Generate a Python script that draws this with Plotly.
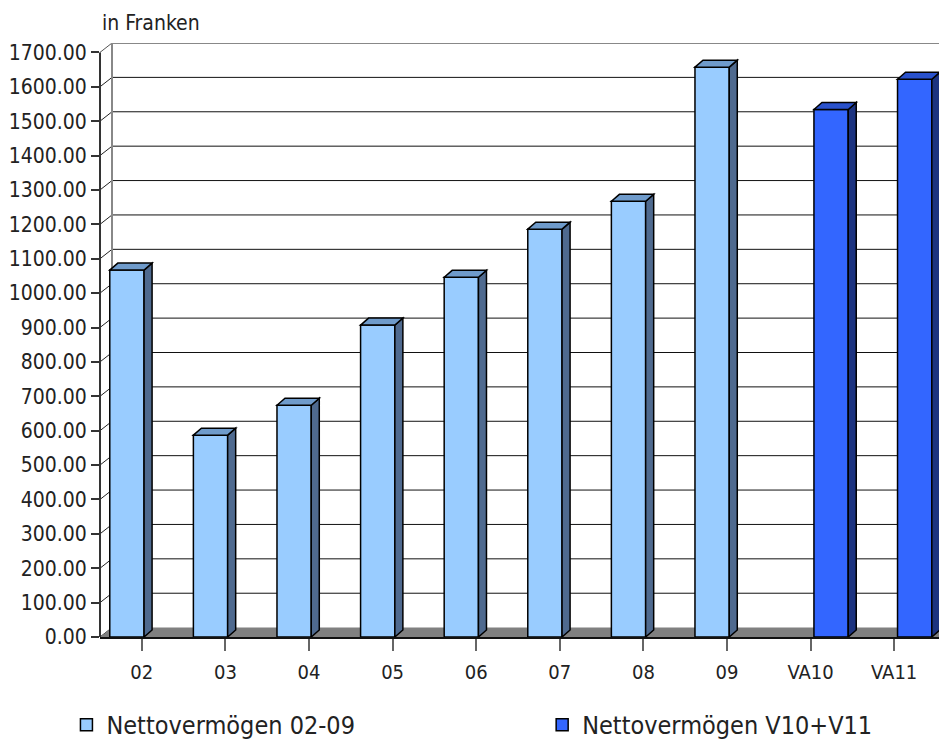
import plotly.graph_objects as go

categories = ["02", "03", "04", "05", "06", "07", "08", "09", "VA10", "VA11"]
netto_02_09 = [1067, 587, 674, 907, 1046, 1186, 1267, 1657, None, None]
netto_v10_v11 = [None, None, None, None, None, None, None, None, 1534, 1622]
y_ticks = list(range(0, 1701, 100))

FONT = "DejaVu Sans Condensed, DejaVu Sans, sans-serif"
TXT = "#222222"

# 3D geometry (in axis units)
BAR_W = 0.41
WALL_DX, WALL_DY = 0.1435, 27.3
BAR_DX, BAR_DY = 0.096, 20.3
X_LEFT, X_RIGHT = -0.5, 9.536
Y_TOP = 1700 + WALL_DY

series = [
    dict(name="Nettovermögen 02-09", values=netto_02_09, offset=-0.383, legend="legend",
         front="#99CCFF", top="#6F9BCB", side="#4F6A8F"),
    dict(name="Nettovermögen V10+V11", values=netto_v10_v11, offset=0.04, legend="legend2",
         front="#3366FF", top="#2A52CC", side="#1C3380"),
]

xs = list(range(len(categories)))
fig = go.Figure()
for s in series:
    fig.add_trace(go.Bar(
        x=xs, y=s["values"], name=s["name"], width=BAR_W, offset=s["offset"],
        legend=s["legend"],
        marker=dict(color=s["front"], line=dict(color="black", width=1.5)),
    ))

shapes = []
# back wall gridlines and connectors
for v in y_ticks:
    if v > 0:
        shapes.append(dict(type="line", xref="x", yref="y", layer="below",
                           x0=X_LEFT + WALL_DX, x1=X_RIGHT + 1, y0=v + WALL_DY, y1=v + WALL_DY,
                           line=dict(color="#888888" if v == 1700 else "#111111",
                                     width=2 if v == 1700 else 1)))
    shapes.append(dict(type="line", xref="x", yref="y", layer="below",
                       x0=X_LEFT, x1=X_LEFT + WALL_DX, y0=v, y1=v + WALL_DY,
                       line=dict(color="#555555" if v == 1700 else "#222222", width=1)))
# back wall left edge
shapes.append(dict(type="line", xref="x", yref="y", layer="below",
                   x0=X_LEFT + WALL_DX, x1=X_LEFT + WALL_DX, y0=WALL_DY, y1=Y_TOP,
                   line=dict(color="#888888", width=2)))
# floor
shapes.append(dict(type="path", xref="x", yref="y", layer="below",
                   path=f"M {X_LEFT},0 L {X_LEFT + WALL_DX},{WALL_DY} L {X_RIGHT + 1},{WALL_DY} L {X_RIGHT + 1},0 Z",
                   fillcolor="#808080", line=dict(width=0)))
# front y axis line
shapes.append(dict(type="line", xref="paper", yref="y", x0=0, x1=0, y0=0, y1=1700,
                   line=dict(color="#333333", width=2)))
# bar depth faces
for s in series:
    for i, v in enumerate(s["values"]):
        if v is None:
            continue
        xl = i + s["offset"]
        xr = xl + BAR_W
        shapes.append(dict(type="path", xref="x", yref="y", layer="above",
                           path=f"M {xr},0 L {xr + BAR_DX},{BAR_DY} L {xr + BAR_DX},{v + BAR_DY} L {xr},{v} Z",
                           fillcolor=s["side"], line=dict(color="black", width=1.5)))
        shapes.append(dict(type="path", xref="x", yref="y", layer="above",
                           path=f"M {xl},{v} L {xl + BAR_DX},{v + BAR_DY} L {xr + BAR_DX},{v + BAR_DY} L {xr},{v} Z",
                           fillcolor=s["top"], line=dict(color="black", width=1.5)))

legend_common = dict(orientation="h", xanchor="left", y=-0.148, yanchor="middle",
                     font=dict(family=FONT, size=25, color=TXT), bgcolor="rgba(0,0,0,0)")

fig.update_layout(
    width=939, height=742,
    margin=dict(l=100, r=0, t=43, b=105, autoexpand=False),
    paper_bgcolor="white", plot_bgcolor="white",
    barmode="overlay",
    shapes=shapes,
    font=dict(family=FONT, color=TXT, size=20),
    showlegend=True,
    legend=dict(x=-0.04, **legend_common),
    legend2=dict(x=0.527, **legend_common),
    annotations=[dict(text="in Franken", xref="paper", yref="paper", x=0.0, y=1.0,
                      yshift=6, xanchor="left", yanchor="bottom", showarrow=False,
                      font=dict(family=FONT, size=21, color=TXT))],
    xaxis=dict(range=[X_LEFT, X_RIGHT], tickvals=xs, ticktext=categories,
               showgrid=False, zeroline=False, showline=True, linecolor="#111111", linewidth=1.5,
               ticks="outside", tickson="boundaries", ticklen=12, tickcolor="#666666", tickwidth=1.5,
               ticklabelstandoff=4,
               tickfont=dict(family=FONT, size=20, color=TXT), fixedrange=True),
    yaxis=dict(range=[0, Y_TOP], tickvals=y_ticks, tickformat=".2f",
               showgrid=False, zeroline=False, showline=False,
               ticks="outside", ticklen=8, tickcolor="#333333", tickwidth=1.5,
               tickfont=dict(family=FONT, size=21, color=TXT), fixedrange=True),
)

fig.write_html("out.html", config={"displayModeBar": False},
               post_script="document.body.style.margin='0px';")
